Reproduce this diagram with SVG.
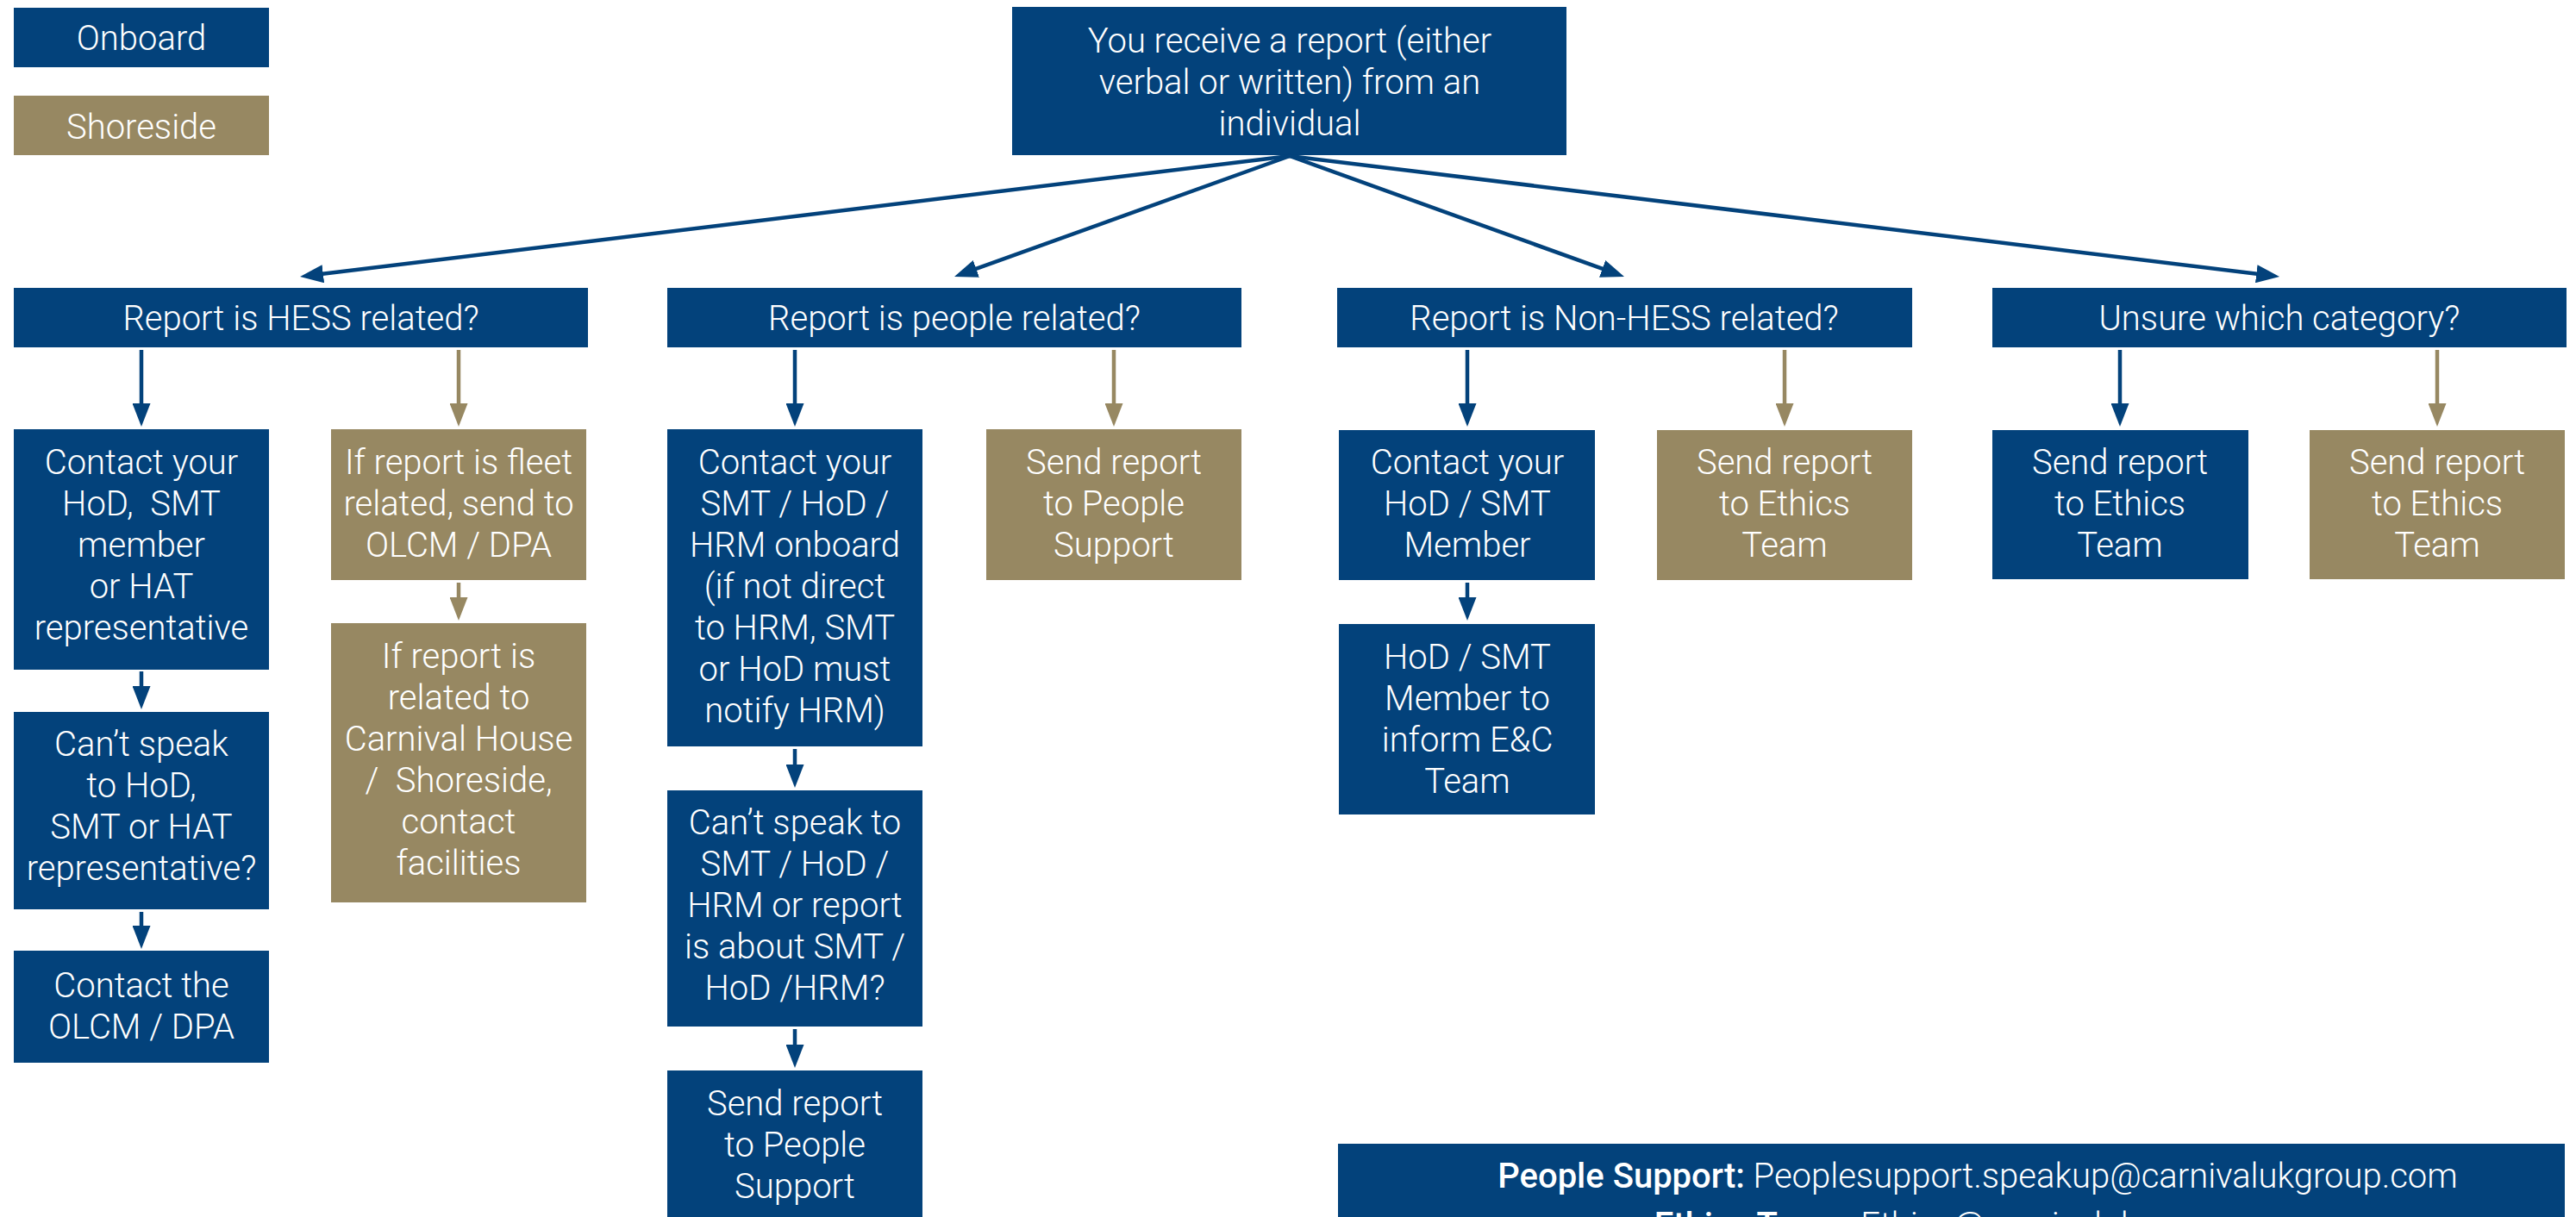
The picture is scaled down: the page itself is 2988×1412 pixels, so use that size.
<svg xmlns="http://www.w3.org/2000/svg" width="2988" height="1412" viewBox="0 0 2988 1412">
<style>
.b{fill:#03427b}
.t{fill:#978862}
text{font-family:Roboto,"Open Sans","Liberation Sans",sans-serif;font-weight:300;font-size:40px;fill:#ffffff;text-anchor:middle}
.bold{font-weight:500}
.cb{stroke:#03427b;stroke-width:4.5;fill:none}
.ct{stroke:#978862;stroke-width:4.5;fill:none}
</style>
<defs>
<marker id="ab" markerUnits="userSpaceOnUse" markerWidth="27" markerHeight="21" refX="7" refY="10.5" orient="auto" viewBox="0 0 27 21"><path d="M0,0 L27,10.5 L0,21 z" fill="#03427b"/></marker>
<marker id="at" markerUnits="userSpaceOnUse" markerWidth="27" markerHeight="21" refX="7" refY="10.5" orient="auto" viewBox="0 0 27 21"><path d="M0,0 L27,10.5 L0,21 z" fill="#978862"/></marker>
</defs>
<rect width="2988" height="1412" fill="#ffffff"/>

<g id="legend-onboard"><rect class="b" x="16" y="9" width="296" height="69"/><text x="164" y="58">Onboard</text></g>
<g id="legend-shoreside"><rect class="t" x="16" y="111" width="296" height="69"/><text x="164" y="161">Shoreside</text></g>

<g id="start"><rect class="b" x="1174" y="8" width="643" height="172"/>
<text x="1496" y="61">You receive a report (either</text>
<text x="1496" y="109">verbal or written) from an</text>
<text x="1496" y="157">individual</text></g>

<g id="cat-hess"><rect class="b" x="16" y="334" width="666" height="69"/><text x="349" y="383">Report is HESS related?</text></g>
<g id="cat-people"><rect class="b" x="774" y="334" width="666" height="69"/><text x="1107" y="383">Report is people related?</text></g>
<g id="cat-nonhess"><rect class="b" x="1551" y="334" width="667" height="69"/><text x="1884" y="383">Report is Non-HESS related?</text></g>
<g id="cat-unsure"><rect class="b" x="2311" y="334" width="666" height="69"/><text x="2644" y="383">Unsure which category?</text></g>

<g id="hess-contact"><rect class="b" x="16" y="498" width="296" height="279"/>
<text x="164" y="550">Contact your</text>
<text x="164" y="598" xml:space="preserve">HoD,  SMT</text>
<text x="164" y="646">member</text>
<text x="164" y="694">or HAT</text>
<text x="164" y="742">representative</text></g>
<g id="hess-cant"><rect class="b" x="16" y="826" width="296" height="229"/>
<text x="164" y="877">Can’t speak</text>
<text x="164" y="925">to HoD,</text>
<text x="164" y="973">SMT or HAT</text>
<text x="164" y="1021">representative?</text></g>
<g id="hess-olcm"><rect class="b" x="16" y="1103" width="296" height="130"/>
<text x="164" y="1157">Contact the</text>
<text x="164" y="1205">OLCM / DPA</text></g>
<g id="hess-fleet"><rect class="t" x="384" y="498" width="296" height="175"/>
<text x="532" y="550">If report is fleet</text>
<text x="532" y="598">related, send to</text>
<text x="532" y="646">OLCM / DPA</text></g>
<g id="hess-carnival"><rect class="t" x="384" y="723" width="296" height="324"/>
<text x="532" y="775">If report is</text>
<text x="532" y="823">related to</text>
<text x="532" y="871">Carnival House</text>
<text x="532" y="919" xml:space="preserve">/  Shoreside,</text>
<text x="532" y="967">contact</text>
<text x="532" y="1015">facilities</text></g>

<g id="people-contact"><rect class="b" x="774" y="498" width="296" height="368"/>
<text x="922" y="550">Contact your</text>
<text x="922" y="598">SMT / HoD /</text>
<text x="922" y="646">HRM onboard</text>
<text x="922" y="694">(if not direct</text>
<text x="922" y="742">to HRM, SMT</text>
<text x="922" y="790">or HoD must</text>
<text x="922" y="838">notify HRM)</text></g>
<g id="people-cant"><rect class="b" x="774" y="917" width="296" height="274"/>
<text x="922" y="968">Can’t speak to</text>
<text x="922" y="1016">SMT / HoD /</text>
<text x="922" y="1064">HRM or report</text>
<text x="922" y="1112">is about SMT /</text>
<text x="922" y="1160">HoD /HRM?</text></g>
<g id="people-send-onboard"><rect class="b" x="774" y="1242" width="296" height="180"/>
<text x="922" y="1294">Send report</text>
<text x="922" y="1342">to People</text>
<text x="922" y="1390">Support</text></g>
<g id="people-send-shore"><rect class="t" x="1144" y="498" width="296" height="175"/>
<text x="1292" y="550">Send report</text>
<text x="1292" y="598">to People</text>
<text x="1292" y="646">Support</text></g>

<g id="nonhess-contact"><rect class="b" x="1553" y="499" width="297" height="174"/>
<text x="1702" y="550">Contact your</text>
<text x="1702" y="598">HoD / SMT</text>
<text x="1702" y="646">Member</text></g>
<g id="nonhess-inform"><rect class="b" x="1553" y="724" width="297" height="221"/>
<text x="1702" y="776">HoD / SMT</text>
<text x="1702" y="824">Member to</text>
<text x="1702" y="872">inform E&amp;C</text>
<text x="1702" y="920">Team</text></g>
<g id="nonhess-ethics"><rect class="t" x="1922" y="499" width="296" height="174"/>
<text x="2070" y="550">Send report</text>
<text x="2070" y="598">to Ethics</text>
<text x="2070" y="646">Team</text></g>

<g id="unsure-onboard"><rect class="b" x="2311" y="499" width="297" height="173"/>
<text x="2459" y="550">Send report</text>
<text x="2459" y="598">to Ethics</text>
<text x="2459" y="646">Team</text></g>
<g id="unsure-shore"><rect class="t" x="2679" y="499" width="296" height="173"/>
<text x="2827" y="550">Send report</text>
<text x="2827" y="598">to Ethics</text>
<text x="2827" y="646">Team</text></g>

<g id="contacts"><rect class="b" x="1552" y="1327" width="1423" height="100"/>
<text x="2294" y="1378"><tspan class="bold">People Support:</tspan> Peoplesupport.speakup@carnivalukgroup.com</text>
<text x="2294" y="1435"><tspan class="bold">Ethics Team:</tspan> Ethics@carnivalukgroup.com</text></g>

<g id="connectors">
<line class="cb" x1="1496" y1="181" x2="367.9" y2="318.6" marker-end="url(#ab)"/>
<line class="cb" x1="1496" y1="181" x2="1125.8" y2="314.2" marker-end="url(#ab)"/>
<line class="cb" x1="1496" y1="181" x2="1865.2" y2="314.2" marker-end="url(#ab)"/>
<line class="cb" x1="1496" y1="181" x2="2624.2" y2="318.6" marker-end="url(#ab)"/>
<line class="cb" x1="164" y1="406" x2="164" y2="475" marker-end="url(#ab)"/>
<line class="cb" x1="164" y1="779" x2="164" y2="803" marker-end="url(#ab)"/>
<line class="cb" x1="164" y1="1058" x2="164" y2="1081" marker-end="url(#ab)"/>
<line class="cb" x1="922" y1="406" x2="922" y2="475" marker-end="url(#ab)"/>
<line class="cb" x1="922" y1="869" x2="922" y2="894" marker-end="url(#ab)"/>
<line class="cb" x1="922" y1="1194" x2="922" y2="1219" marker-end="url(#ab)"/>
<line class="cb" x1="1702" y1="406" x2="1702" y2="475" marker-end="url(#ab)"/>
<line class="cb" x1="1702" y1="676" x2="1702" y2="700" marker-end="url(#ab)"/>
<line class="cb" x1="2459" y1="406" x2="2459" y2="475" marker-end="url(#ab)"/>
<line class="ct" x1="532" y1="406" x2="532" y2="475" marker-end="url(#at)"/>
<line class="ct" x1="532" y1="676" x2="532" y2="700" marker-end="url(#at)"/>
<line class="ct" x1="1292" y1="406" x2="1292" y2="475" marker-end="url(#at)"/>
<line class="ct" x1="2070" y1="406" x2="2070" y2="475" marker-end="url(#at)"/>
<line class="ct" x1="2827" y1="406" x2="2827" y2="475" marker-end="url(#at)"/>
</g>
</svg>
